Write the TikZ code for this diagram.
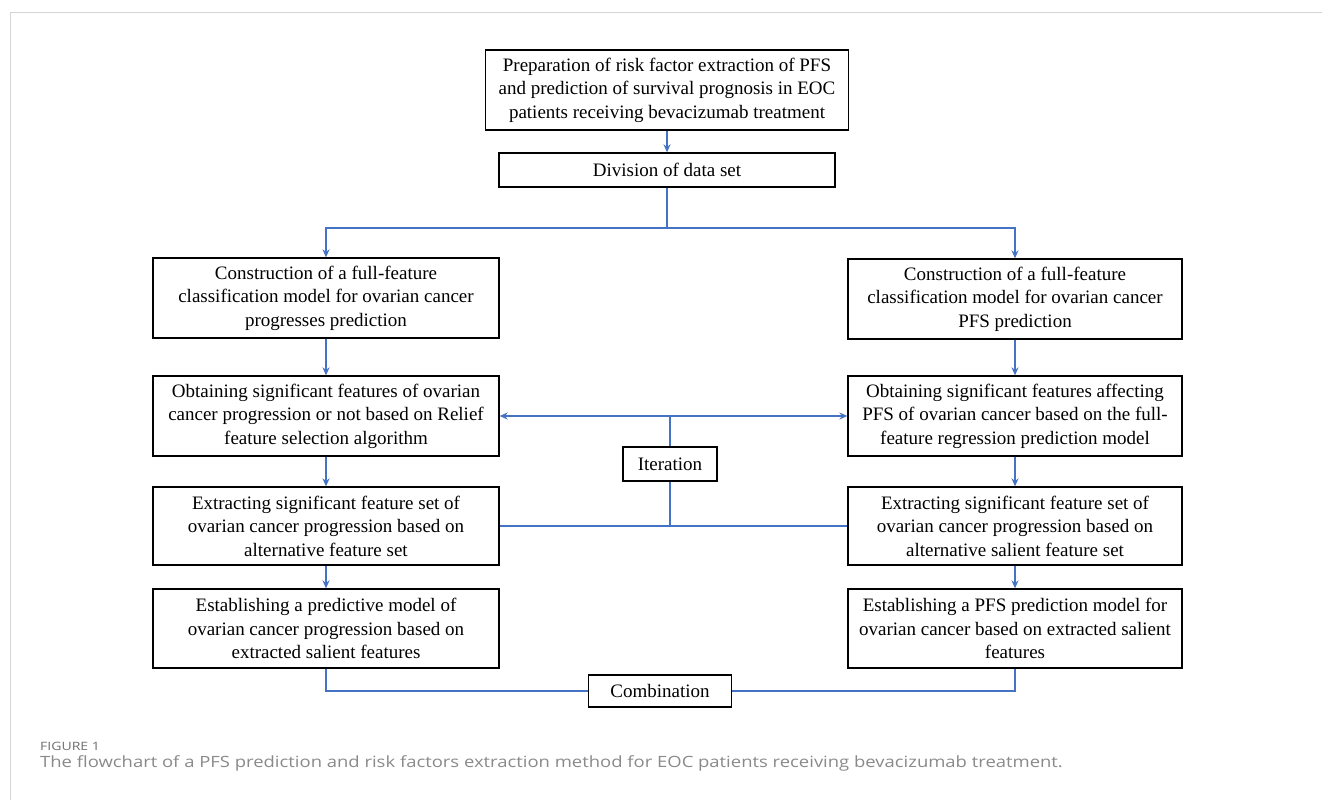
\documentclass[tikz,border=0pt]{standalone}
\usepackage{fontspec}
\usepackage{graphicx}
\setmainfont{Liberation Serif}
\newfontfamily\capfont{Open Sans}
\usetikzlibrary{arrows.meta,calc}
\definecolor{lineblue}{HTML}{4472C4}
\definecolor{framegray}{HTML}{D4D4D4}
\definecolor{capgray}{HTML}{8A8A8A}
\definecolor{figgray}{HTML}{707070}
\begin{document}
\begin{tikzpicture}[x=1pt,y=-1pt,
  box/.style={draw=black,line width=1.3pt,align=center,inner sep=0pt,
    font=\fontsize{19}{23.5}\selectfont},
  conn/.style={draw=lineblue,line width=2pt},
  arr/.style={conn,-{Stealth[length=8pt,width=7pt]}},
  darr/.style={conn,{Stealth[length=8pt,width=7pt]}-{Stealth[length=8pt,width=7pt]}}]
\useasboundingbox (0,0) rectangle (1322,800);
\fill[white] (0,0) rectangle (1322,800);
% frame
\draw[framegray,line width=1pt] (10.5,800) -- (10.5,12.5) -- (1322,12.5);

\node[box,minimum width=363,minimum height=80] (top) at (667,90)
  {Preparation of risk factor extraction of PFS\\and prediction of survival prognosis in EOC\\patients receiving bevacizumab treatment};
\node[box,minimum width=336,minimum height=34] (div) at (667,170) {Division of data set};

\node[box,minimum width=346,minimum height=80] (L1) at (326,298)
  {Construction of a full-feature\\classification model for ovarian cancer\\progresses prediction};
\node[box,minimum width=334,minimum height=80] (R1) at (1015,299)
  {Construction of a full-feature\\classification model for ovarian cancer\\PFS prediction};
\node[box,minimum width=346,minimum height=80] (L2) at (326,416)
  {Obtaining significant features of ovarian\\cancer progression or not based on Relief\\feature selection algorithm};
\node[box,minimum width=334,minimum height=80] (R2) at (1015,416)
  {Obtaining significant features affecting\\PFS of ovarian cancer based on the full-\\feature regression prediction model};
\node[box,minimum width=346,minimum height=78] (L3) at (326,526)
  {Extracting significant feature set of\\ovarian cancer progression based on\\alternative feature set};
\node[box,minimum width=334,minimum height=78] (R3) at (1015,526)
  {Extracting significant feature set of\\ovarian cancer progression based on\\alternative salient feature set};
\node[box,minimum width=346,minimum height=79] (L4) at (326,628.5)
  {Establishing a predictive model of\\ovarian cancer progression based on\\extracted salient features};
\node[box,minimum width=334,minimum height=79] (R4) at (1015,628.5)
  {Establishing a PFS prediction model for\\ovarian cancer based on extracted salient\\features};
\node[box,minimum width=94,minimum height=34] (iter) at (670,464) {Iteration};
\node[box,minimum width=143,minimum height=32] (comb) at (660,691) {Combination};

% connectors
\coordinate (split) at (667,228);
\draw[arr] (top) -- (div);
\draw[conn] (div) -- (split);
\draw[arr] (split) -| (L1.north);
\draw[arr] (split) -| (R1.north);
\draw[arr] (L1) -- (L2);
\draw[arr] (R1) -- (R2);
\draw[arr] (L2) -- (L3);
\draw[arr] (R2) -- (R3);
\draw[arr] (L3) -- (L4);
\draw[arr] (R3) -- (R4);
\draw[darr] (L2.east) -- (R2.west);
\draw[conn] (iter.north) -- (iter.north |- L2.east);
\draw[conn] (L3.east) -- (R3.west);
\draw[conn] (iter.south) -- (iter.south |- L3.east);
\draw[conn] (L4.south) |- (comb.west);
\draw[conn] (comb.east) -| (R4.south);

% caption
\node[anchor=base west,inner sep=0pt,text=figgray,font=\capfont\fontsize{11.5}{14}\selectfont] (figlab) at (40,750) {\scalebox{1.22}[1]{FIGURE 1}};
\node[anchor=base west,inner sep=0pt,text=capgray,font=\capfont\fontsize{15.5}{18}\selectfont] (cap) at (40,767)
  {\scalebox{1.19}[1]{The flowchart of a PFS prediction and risk factors extraction method for EOC patients receiving bevacizumab treatment.}};
\end{tikzpicture}
\end{document}
